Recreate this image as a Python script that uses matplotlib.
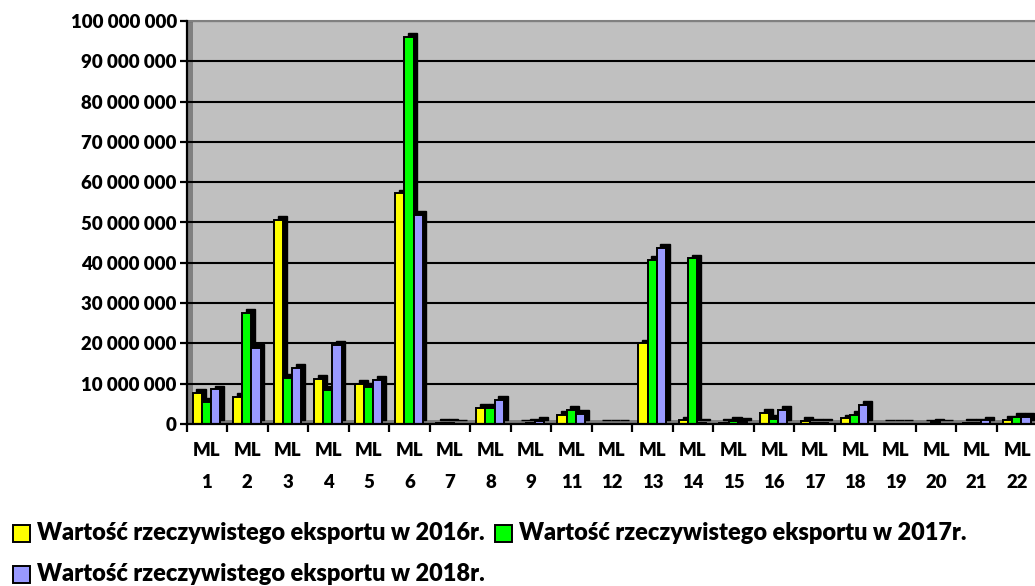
import matplotlib
matplotlib.use("Agg")
import matplotlib.pyplot as plt
import matplotlib.transforms as mtransforms
from matplotlib.patches import Rectangle
from matplotlib.ticker import FuncFormatter, FixedLocator
import numpy as np

categories = ["ML\n1", "ML\n2", "ML\n3", "ML\n4", "ML\n5", "ML\n6", "ML\n7", "ML\n8", "ML\n9",
              "ML\n11", "ML\n12", "ML\n13", "ML\n14", "ML\n15", "ML\n16", "ML\n17", "ML\n18",
              "ML\n19", "ML\n20", "ML\n21", "ML\n22"]
export_2016 = [7.8e6, 6.8e6, 50.6e6, 11.1e6, 9.9e6, 57.2e6, 0.3e6, 3.9e6, 0.05e6,
               2.2e6, 0.1e6, 20.0e6, 0.9e6, 0.3e6, 2.7e6, 0.8e6, 1.4e6,
               0.1e6, 0.05e6, 0.2e6, 1.0e6]
export_2017 = [5.5e6, 27.5e6, 11.4e6, 8.4e6, 9.3e6, 96.1e6, 0.2e6, 3.9e6, 0.3e6,
               3.5e6, 0.1e6, 40.7e6, 41.1e6, 0.8e6, 1.2e6, 0.3e6, 2.2e6,
               0.1e6, 0.4e6, 0.3e6, 1.7e6]
export_2018 = [8.6e6, 18.8e6, 13.9e6, 19.6e6, 10.9e6, 51.9e6, 0.1e6, 5.9e6, 0.8e6,
               2.6e6, 0.1e6, 43.6e6, 0.2e6, 0.6e6, 3.5e6, 0.3e6, 4.7e6,
               0.1e6, 0.1e6, 0.9e6, 1.8e6]
series_labels = ["Wartość rzeczywistego eksportu w 2016r.",
                 "Wartość rzeczywistego eksportu w 2017r.",
                 "Wartość rzeczywistego eksportu w 2018r."]
y_ticks = [0, 10e6, 20e6, 30e6, 40e6, 50e6, 60e6, 70e6, 80e6, 90e6, 100e6]

colors = ["#FFFF00", "#00FF00", "#9999FF"]
FONT = ["Lato", "DejaVu Sans"]
WEIGHT = "heavy"
plt.rcParams['font.family'] = FONT
plt.rcParams['font.weight'] = WEIGHT

W, H = 1035, 586
fig = plt.figure(figsize=(W / 100, H / 100), dpi=100)
fig.patch.set_facecolor("white")
renderer = fig.canvas.get_renderer()


def fit_size(text, target_px, base=12.0):
    t = fig.text(0, 0, text, fontsize=base, fontweight=WEIGHT)
    w = t.get_window_extent(renderer).width
    t.remove()
    return base * target_px / w


tick_fs = fit_size("100 000 000", 107)
leg_fs = fit_size(series_labels[0], 446)

ax_left, ax_right, ax_top, ax_bottom = 186.5, 1037.5, 21, 424
ax = fig.add_axes([ax_left / W, (H - ax_bottom) / H, (ax_right - ax_left) / W, (ax_bottom - ax_top) / H])
ax.set_facecolor("#C0C0C0")

n = len(categories)
x = np.arange(n)
ax.set_xlim(-0.5, n - 0.5)
ax.set_ylim(0, 100e6)

# 3D wall / floor decorations
ax.add_patch(Rectangle((0, 0), 6 / (ax_right - ax_left), 1, transform=ax.transAxes,
                       facecolor="#808080", edgecolor="none", zorder=0.5))
ax.add_patch(Rectangle((0, 0), 1, 4 / (ax_bottom - ax_top), transform=ax.transAxes,
                       facecolor="#808080", edgecolor="none", zorder=0.5))

# grid
for v in y_ticks[1:]:
    ax.axhline(v, color="black", lw=1.5, zorder=1)

width = 0.225
offsets = [-0.235, -0.01, 0.215]
dx, dy = 3.8, 3.8  # depth in pixels
shift = mtransforms.ScaledTranslation(dx / 100, dy / 100, fig.dpi_scale_trans)
data_vals = [export_2016, export_2017, export_2018]
for vals, off, c in zip(data_vals, offsets, colors):
    ax.bar(x + off, vals, width=width, color="black", edgecolor="black", lw=1.0,
           transform=ax.transData + shift, zorder=2)
for vals, off, c in zip(data_vals, offsets, colors):
    ax.bar(x + off, vals, width=width, color=c, edgecolor="black", lw=1.4, zorder=3)

# axes styling
ax.spines["right"].set_visible(False)
ax.spines["top"].set_color("#808080")
ax.spines["top"].set_linewidth(1.5)
ax.spines["left"].set_linewidth(1.6)
ax.spines["bottom"].set_linewidth(1.6)
ax.spines["left"].set_zorder(4)
ax.spines["bottom"].set_zorder(4)

ax.set_yticks(y_ticks)
ax.yaxis.set_major_formatter(FuncFormatter(lambda v, p: f"{int(round(v)):,}".replace(",", " ")))
ax.tick_params(axis="y", length=5, width=1.6, pad=2, labelsize=tick_fs)

ax.xaxis.set_major_locator(FixedLocator(np.arange(-0.5, n, 1.0)))
ax.xaxis.set_major_formatter(FuncFormatter(lambda v, p: ""))
ax.xaxis.set_minor_locator(FixedLocator(x))
ax.set_xticklabels(categories, minor=True)
ax.tick_params(axis="x", which="major", length=6, width=1.6)
ax.tick_params(axis="x", which="minor", length=0, pad=13, labelsize=tick_fs)
for lbl in ax.get_xticklabels(minor=True):
    lbl.set_linespacing(2.05)
    lbl.set_fontweight(WEIGHT)
for lbl in ax.get_yticklabels():
    lbl.set_fontweight(WEIGHT)

# legend (manual flow layout)
legend_items = [(series_labels[0], colors[0], 13, 533),
                (series_labels[1], colors[1], 495, 533),
                (series_labels[2], colors[2], 13, 574)]
sq = 17
for lab, c, xs, yc in legend_items:
    fig.patches.append(Rectangle((xs / W, (H - yc - sq / 2) / H), sq / W, sq / H,
                                 transform=fig.transFigure, facecolor=c,
                                 edgecolor="black", lw=1.4))
    fig.text((xs + sq + 7) / W, (H - yc) / H, lab, fontsize=leg_fs, fontweight=WEIGHT,
             va="center", ha="left", color="black")

fig.savefig("out.png", dpi=100)
